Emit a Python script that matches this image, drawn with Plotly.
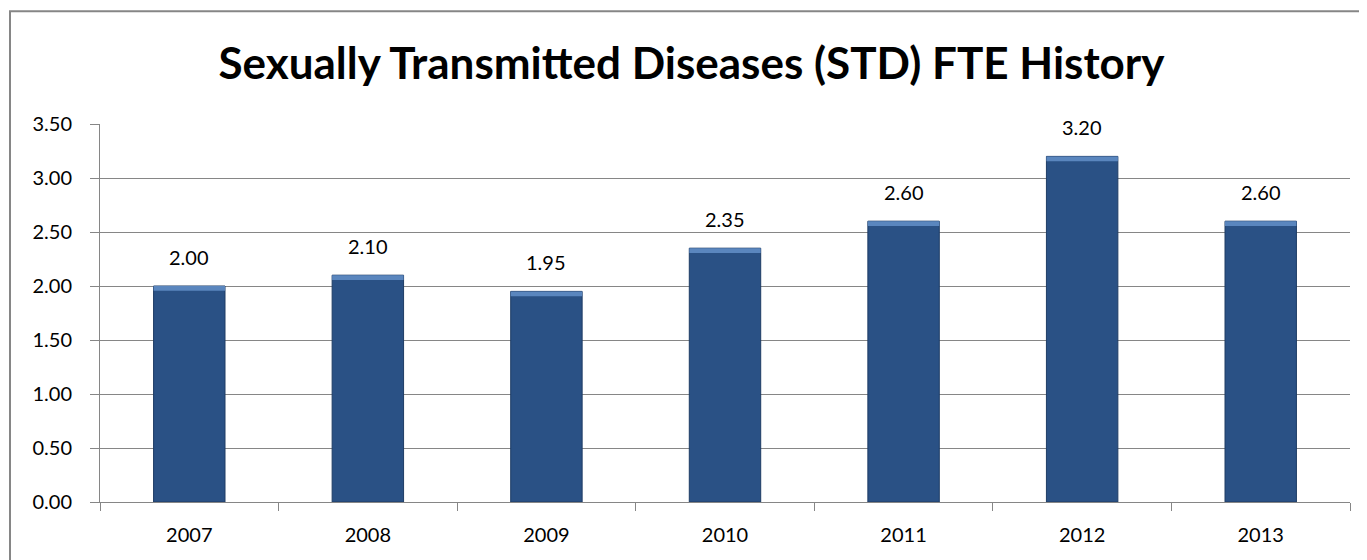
import plotly.graph_objects as go

years = ["2007", "2008", "2009", "2010", "2011", "2012", "2013"]
fte = [2.00, 2.10, 1.95, 2.35, 2.60, 3.20, 2.60]
y_ticks = [0, 0.5, 1.0, 1.5, 2.0, 2.5, 3.0, 3.5]
title_text = "Sexually Transmitted Diseases (STD) FTE History"

FONT = "Lato, Carlito, Calibri, 'Open Sans', sans-serif"
bevel = 0.045

fig = go.Figure()
fig.add_trace(go.Bar(
    x=years, y=fte, width=0.4,
    marker=dict(color="#2A5185", line=dict(color="#1E3C65", width=1)),
    hoverinfo="x+y", showlegend=False,
))
# top bevel highlight
fig.add_trace(go.Bar(
    x=years, y=[bevel] * len(fte), base=[v - bevel for v in fte], width=0.4,
    marker=dict(color="#5A86BE", line=dict(width=0)),
    hoverinfo="skip", showlegend=False,
))

for i, v in enumerate(fte):
    fig.add_annotation(x=i, y=v, text=f"{v:.2f}", showarrow=False,
                       xref="x", yref="y",
                       yanchor="bottom", yshift=15,
                       font=dict(family=FONT, size=20, color="#000000"))

fig.update_layout(
    width=1367, height=560,
    margin=dict(l=92, r=25, t=116, b=66, autoexpand=False),
    paper_bgcolor="white", plot_bgcolor="white",
    barmode="overlay",
    title=dict(text=f"<b>{title_text}</b>", x=0.5, xanchor="center",
               y=1 - 56 / 560, yref="container", yanchor="middle",
               font=dict(family=FONT, size=44, color="#000000")),
    font=dict(family=FONT, size=20, color="#000000"),
)
fig.update_xaxes(
    type="category", categoryorder="array", categoryarray=years,
    range=[-0.5, len(years) - 0.5], automargin=False,
    tickson="boundaries", ticks="outside", ticklen=8,
    tickcolor="#868686", tickwidth=1, tickangle=0,
    showline=True, linecolor="#868686", linewidth=1,
    showgrid=False, ticklabelstandoff=15,
    tickfont=dict(family=FONT, size=20, color="#000000"),
)
fig.update_yaxes(
    range=[0, 3.5], tickvals=y_ticks, tickformat=".2f", automargin=False,
    ticks="outside", ticklen=9, tickcolor="#868686", tickwidth=1,
    showline=True, linecolor="#868686", linewidth=1,
    showgrid=True, gridcolor="#868686", gridwidth=1,
    zeroline=False, ticklabelstandoff=14,
    tickfont=dict(family=FONT, size=20, color="#000000"),
)
# outer chart border
fig.add_shape(type="rect", xref="paper", yref="paper",
              x0=-0.072, x1=1.03, y0=-0.25, y1=1.298,
              line=dict(color="#868686", width=2), fillcolor="rgba(0,0,0,0)",
              layer="below")

fig.write_html("out.html")
